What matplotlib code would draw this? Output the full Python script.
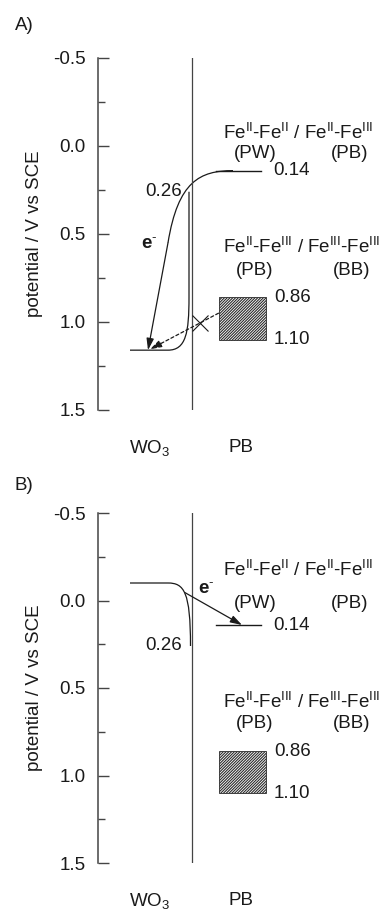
import numpy as np
import matplotlib.pyplot as plt
from matplotlib.patches import Rectangle, PathPatch
from matplotlib.path import Path

plt.rcParams['font.family'] = ['Liberation Sans', 'DejaVu Sans']
plt.rcParams['mathtext.fontset'] = 'custom'
plt.rcParams['mathtext.rm'] = 'Liberation Sans'
plt.rcParams['mathtext.it'] = 'Liberation Sans:italic'
plt.rcParams['mathtext.bf'] = 'Liberation Sans:bold'
plt.rcParams['axes.unicode_minus'] = False
plt.rcParams['hatch.linewidth'] = 0.8

# potentials in V vs SCE
pw_pb = 0.14                 # Fe(II)-Fe(II) / Fe(II)-Fe(III)
pb_bb = [0.86, 1.10]         # Fe(II)-Fe(III) / Fe(III)-Fe(III) wave
bend_top = 0.26              # WO3 band edge at the interface
wo3_flat = [1.16, -0.10]     # WO3 band edge in the bulk, panel A and B
panels = ['A)', 'B)']
major_ticks = [-0.5, 0.0, 0.5, 1.0, 1.5]
minor_ticks = [-0.25, 0.25, 0.75, 1.25]

lbl_top = r'Fe$^{\rm II}$-Fe$^{\rm II}$ / Fe$^{\rm II}$-Fe$^{\rm III}$'
lbl_bot = r'Fe$^{\rm II}$-Fe$^{\rm III}$ / Fe$^{\rm III}$-Fe$^{\rm III}$'
lbl_e = r'$\mathbf{e}^{\text{-}}$'

W, H = 384, 910
fig = plt.figure(figsize=(W / 100, H / 100), dpi=100)

FS = 13.5
INK = '#1a1a1a'
AX = '#444444'
X_INT = 191.5     # interface line
X_BAND = 189.0    # where the WO3 band reaches the interface

# (top px, bottom px) of the -0.5..1.5 axis for each panel
frames = [(58, 410), (513, 863)]
# y of the two-line couple labels: (name line, PW/PB line, name line, PB/BB line)
label_rows = [(-0.074, 0.045, 0.572, 0.705), (-0.175, 0.02, 0.577, 0.70)]

arrow_kw = dict(arrowstyle='-|>,head_length=0.7,head_width=0.22', color=INK, lw=0.9,
                mutation_scale=10, shrinkA=0, shrinkB=0)

for k, (top, bot) in enumerate(frames):
    ax = fig.add_axes([98 / W, 1 - bot / H, (W - 98) / W, (bot - top) / H])
    ax.set_xlim(98, W)
    ax.set_ylim(1.5, -0.5)
    for s in ['top', 'right', 'bottom']:
        ax.spines[s].set_visible(False)
    ax.spines['left'].set_color(AX)
    ax.spines['left'].set_linewidth(1.1)
    ax.set_xticks([])
    ax.set_yticks(major_ticks)
    ax.set_yticks(minor_ticks, minor=True)
    ax.set_yticklabels(['%.1f' % t for t in major_ticks])
    ax.tick_params(axis='y', which='major', direction='in', length=8, width=1.0,
                   color=AX, labelsize=FS, pad=9, labelcolor=INK)
    ax.tick_params(axis='y', which='minor', direction='in', length=5, width=1.0, color=AX)
    ax.set_ylabel('potential / V vs SCE', fontsize=FS, color=INK)
    ax.yaxis.set_label_coords(-0.192, 0.5)
    ax.patch.set_alpha(0)

    fig.text(15 / W, 1 - (25.5 + 460 * k) / H, panels[k], fontsize=FS, color=INK,
             va='center', ha='left')

    # interface
    ax.plot([X_INT, X_INT], [-0.5, 1.5], color=AX, lw=0.9)

    # Fe(II)/Fe(III) level and the hatched Fe(III) wave
    ax.plot([216, 261], [pw_pb, pw_pb], color=INK, lw=1.0)
    ax.add_patch(Rectangle((218.5, pb_bb[0]), 47, pb_bb[1] - pb_bb[0], facecolor='white',
                           edgecolor='#2a2a2a', hatch='/' * 12, lw=0.6))

    e = wo3_flat[k]
    if k == 0:
        # band bent upwards towards the interface
        band = Path([(130, e), (168, e), (186, e), (X_BAND, e - 0.1), (X_BAND, e - 0.3),
                     (X_BAND, bend_top)],
                    [Path.MOVETO, Path.LINETO, Path.CURVE4, Path.CURVE4, Path.CURVE4,
                     Path.LINETO])
        # electron path from PW/PB level down into the WO3 band
        curve = Path([(233, pw_pb), (200, pw_pb), (178, 0.2), (168, 0.55)],
                     [Path.MOVETO, Path.CURVE4, Path.CURVE4, Path.CURVE4])
        ax.add_patch(PathPatch(curve, facecolor='none', edgecolor=INK, lw=0.9))
        ax.annotate('', xy=(148, e), xytext=(168, 0.55), arrowprops=arrow_kw)
        # blocked transfer from the BB wave
        y0 = np.mean(pb_bb) - 0.03
        ax.annotate('', xy=(150, e - 0.005), xytext=(218.5, y0),
                    arrowprops=dict(arrow_kw, ls=(0, (2.5, 2))))
        yx = np.interp(200, [150, 218.5], [e - 0.005, y0])
        ax.plot([200], [yx], marker='x', ms=11, mew=0.8, color=INK)
        ax.text(149, 0.56, lbl_e, fontsize=FS, color=INK, ha='center', va='center')
    else:
        # band bent downwards towards the interface
        band = Path([(130, e), (168, e), (184, e), (190.5, e + 0.05), (190.5, bend_top)],
                    [Path.MOVETO, Path.LINETO, Path.CURVE4, Path.CURVE4, Path.CURVE4])
        ax.annotate('', xy=(242, pw_pb), xytext=(185, e + 0.055), arrowprops=arrow_kw)
        ax.text(206, -0.065, lbl_e, fontsize=FS, color=INK, ha='center', va='center')
    ax.add_patch(PathPatch(band, facecolor='none', edgecolor=INK, lw=0.9))

    # value labels
    ax.text(182, bend_top, '%.2f' % bend_top, fontsize=FS, color=INK, ha='right', va='center')
    ax.text(273, pw_pb, '%.2f' % pw_pb, fontsize=FS, color=INK, ha='left', va='center')
    ax.text(274, pb_bb[0], '%.2f' % pb_bb[0], fontsize=FS, color=INK, ha='left', va='center')
    ax.text(274, pb_bb[1], '%.2f' % pb_bb[1], fontsize=FS, color=INK, ha='left', va='center')

    # redox couple names
    r1, r2, r3, r4 = label_rows[k]
    ax.text(223, r1, lbl_top, fontsize=FS, color=INK, ha='left', va='center')
    ax.text(234, r2, '(PW)', fontsize=FS, color=INK, ha='left', va='center')
    ax.text(331, r2, '(PB)', fontsize=FS, color=INK, ha='left', va='center')
    ax.text(223, r3, lbl_bot, fontsize=FS, color=INK, ha='left', va='center')
    ax.text(236, r4, '(PB)', fontsize=FS, color=INK, ha='left', va='center')
    ax.text(333, r4, '(BB)', fontsize=FS, color=INK, ha='left', va='center')

    ax.text(129, 1.715, r'WO$_3$', fontsize=FS, color=INK, ha='left', va='center',
            clip_on=False)
    ax.text(228, 1.715, 'PB', fontsize=FS, color=INK, ha='left', va='center',
            clip_on=False)

fig.savefig('out.png', dpi=100)
